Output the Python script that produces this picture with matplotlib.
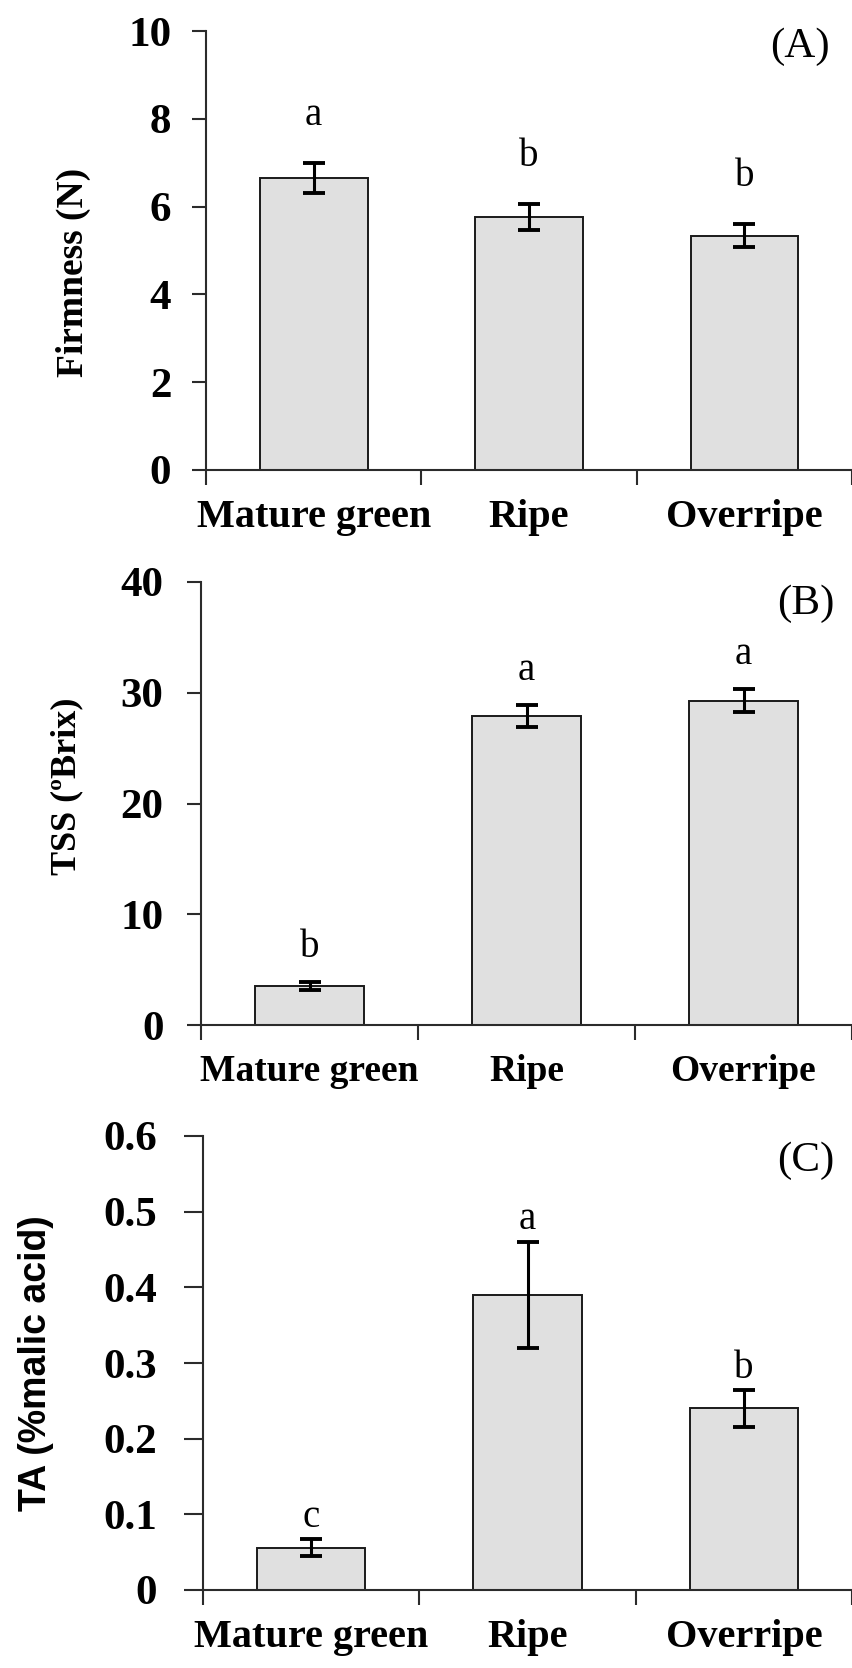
import matplotlib.pyplot as plt
import numpy as np

stages = ['Mature green', 'Ripe', 'Overripe']

firmness = [6.66, 5.76, 5.34]
firmness_err = [0.34, 0.30, 0.27]
firmness_letters = ['a', 'b', 'b']
firmness_ticks = [0, 2, 4, 6, 8, 10]

tss = [3.5, 27.9, 29.3]
tss_err = [0.35, 1.0, 1.0]
tss_letters = ['b', 'a', 'a']
tss_ticks = [0, 10, 20, 30, 40]

ta = [0.056, 0.39, 0.24]
ta_err = [0.011, 0.07, 0.024]
ta_letters = ['c', 'a', 'b']
ta_ticks = [0, 0.1, 0.2, 0.3, 0.4, 0.5, 0.6]
ta_ticklabels = ['0', '0.1', '0.2', '0.3', '0.4', '0.5', '0.6']

SERIF = 'Liberation Serif'
SANS = 'Liberation Sans'
AXCOL = '#2b2b2b'

fig = plt.figure(figsize=(8.52, 16.68), dpi=100)
W, H = 852.0, 1668.0


def panel(left_px, zero_px, top_px, cat_px, vals, errs, letters, ticks, ticklabels,
          ylabel, ylab_font, ylab_size, tag, ylab_xy, tag_xy, letter_off,
          ytick_len, ytick_pad, cat_size):
    ax = fig.add_axes([left_px / W, 1 - zero_px / H, 1 - left_px / W, (zero_px - top_px) / H])
    x = np.arange(len(vals)) + 0.5
    ax.bar(x, vals, width=0.5, color='#e0e0e0', edgecolor='#1a1a1a', linewidth=1.4, zorder=2)
    ax.errorbar(x, vals, yerr=errs, fmt='none', ecolor='black', elinewidth=2.2,
                capsize=8, capthick=2.8, zorder=3)
    top = np.array(vals) + np.array(errs)
    for xi, ti, lt in zip(x, top, letters):
        ax.annotate(lt, (xi, ti), xytext=(0, letter_off), textcoords='offset points',
                    ha='center', va='center', fontsize=28, family=SERIF)

    ax.set_xlim(0, (W - left_px) / cat_px)
    ax.set_ylim(ticks[0], ticks[-1])
    for s in ['top', 'right']:
        ax.spines[s].set_visible(False)
    for s in ['left', 'bottom']:
        ax.spines[s].set_color(AXCOL)
        ax.spines[s].set_linewidth(1.5)
    ax.spines['bottom'].set_zorder(4)

    ax.set_yticks(ticks)
    ax.set_yticklabels(ticklabels, fontsize=31, fontweight='bold', family=SERIF)
    ax.tick_params(axis='y', direction='out', length=ytick_len, width=1.5, color=AXCOL,
                   pad=ytick_pad)

    ax.set_xticks([0, 1, 2, 3])
    ax.set_xticklabels([])
    ax.tick_params(axis='x', which='major', direction='out', length=11, width=1.5, color=AXCOL)
    ax.set_xticks(x, minor=True)
    ax.set_xticklabels(stages, minor=True, fontsize=cat_size, fontweight='bold', family=SERIF)
    ax.tick_params(axis='x', which='minor', length=0, pad=21)

    ax.set_ylabel(ylabel, fontsize=ylab_size, fontweight='bold', family=ylab_font)
    ax.yaxis.set_label_coords(*ylab_xy)

    ax.text(tag_xy[0], tag_xy[1], tag, transform=ax.transAxes, ha='center', va='center',
            fontsize=31, family=SERIF)
    return ax


panel(206, 470, 31, 222, firmness, firmness_err, firmness_letters, firmness_ticks,
      [str(t) for t in firmness_ticks], 'Firmness (N)', SERIF, 27, '(A)',
      (-0.178, 0.45), (0.919, 0.964), 34, 10, 15, 29)

panel(201, 1025, 582, 226, tss, tss_err, tss_letters, tss_ticks,
      [str(t) for t in tss_ticks], 'TSS (ºBrix)', SERIF, 26, '(B)',
      (-0.180, 0.538), (0.929, 0.950), 25, 10, 17, 27)

panel(203, 1590, 1136, 224, ta, ta_err, ta_letters, ta_ticks,
      ta_ticklabels, 'TA (%malic acid)', SANS, 27, '(C)',
      (-0.230, 0.499), (0.928, 0.945), 16, 14, 19, 29)

fig.savefig('out.png', dpi=100)
